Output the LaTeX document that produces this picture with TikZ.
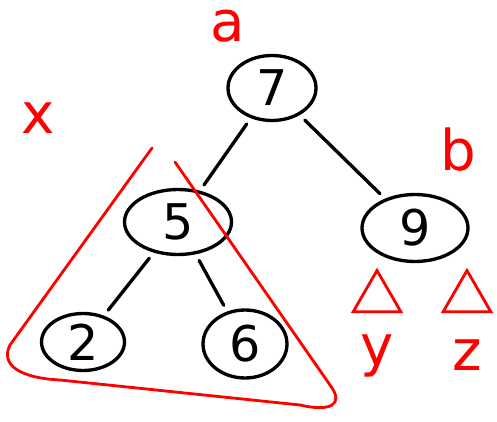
\documentclass[tikz,border=0pt]{standalone}
\usepackage{fontspec}
\setsansfont{DejaVu Sans}
\usepackage{tikz}
\usetikzlibrary{shapes.geometric,positioning}

\begin{document}
\begin{tikzpicture}[x=0.02cm, y=-0.02cm, line width=1.9pt, line cap=round]
    % Stili
    \tikzstyle{keynode}=[ellipse, draw=black, inner sep=0pt, font=\sffamily\fontsize{28}{28}\selectfont]
    \tikzstyle{edge}=[black, shorten <=4pt, shorten >=4pt]
    \tikzstyle{redlabel}=[red, inner sep=0pt, font=\sffamily\fontsize{32}{32}\selectfont]
    \tikzstyle{subtree}=[regular polygon, regular polygon sides=3, draw=red, line width=1.6pt, minimum size=1.1cm, inner sep=0pt]

    \useasboundingbox (0,0) rectangle (497,422);

    % Nodi
    \node (seven) [keynode, minimum width=1.76cm, minimum height=1.3cm] at (272,88) {7};
    \node (five) [keynode, minimum width=2.14cm, minimum height=1.3cm] at (178,222) {5};
    \node (nine) [keynode, minimum width=2.12cm, minimum height=1.34cm] at (415,228) {9};
    \node (two) [keynode, minimum width=1.66cm, minimum height=1.14cm] at (83,342) {2};
    \node (six) [keynode, minimum width=1.68cm, minimum height=1.36cm] at (245,344) {6};

    % Etichette
    \node (a) [redlabel] at (228,26) {a};
    \node (b) [redlabel] at (458,150) {b};
    \node (x) [redlabel] at (38,118) {x};
    \node (ty) [subtree] at (377,298) {};
    \node (tz) [subtree] at (467,298) {};
    \node (y) [redlabel, below=0.4cm of ty] {y};
    \node (z) [redlabel, below=0.5cm of tz] {z};

    % Collegamenti
    \draw [edge] (seven) -- (five);
    \draw [edge] (seven) -- (nine);
    \draw [edge] (five) -- (two);
    \draw [edge] (five) -- (six);

    % Sottoalbero x
    \draw [red, line width=1.6pt] (152,148) -- (10,345) .. controls (0,365) and (20,378) .. (60,380)
        -- (300,405) .. controls (330,412) and (345,405) .. (330,385) -- (175,162);
\end{tikzpicture}
\end{document}
